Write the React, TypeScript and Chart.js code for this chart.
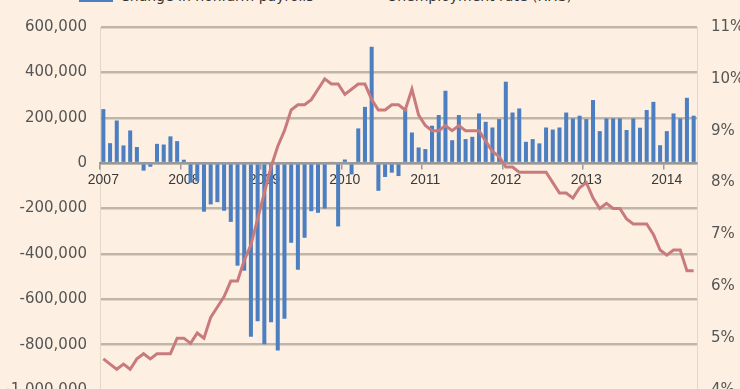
import React, { useEffect, useRef } from "react";
import Chart from "chart.js/auto";

// ---- Data ----
const yearLabels = ["2007", "2008", "2009", "2010", "2011", "2012", "2013", "2014"];
const monthNames = ["Jan", "Feb", "Mar", "Apr", "May", "Jun", "Jul", "Aug", "Sep", "Oct", "Nov", "Dec"];

// Change in nonfarm payrolls (thousands), Jan 2007 – May 2014
const payrolls2007 = [238, 88, 188, 78, 144, 71, -33, -16, 85, 82, 118, 97];
const payrolls2008 = [15, -86, -80, -214, -182, -172, -210, -259, -452, -474, -765, -697];
const payrolls2009 = [-798, -701, -826, -686, -351, -470, -329, -212, -219, -200, 5, -279];
const payrolls2010 = [16, -50, 153, 248, 513, -122, -61, -42, -57, 241, 135, 69];
const payrolls2011 = [62, 165, 212, 319, 101, 212, 106, 116, 219, 182, 157, 194];
const payrolls2012 = [359, 223, 241, 94, 106, 87, 157, 148, 157, 223, 197, 209];
const payrolls2013 = [194, 278, 141, 197, 197, 197, 146, 197, 156, 234, 270, 79];
const payrolls2014 = [141, 219, 197, 288, 209];

// Unemployment rate (%), Jan 2007 – May 2014
const unemp2007 = [4.6, 4.5, 4.4, 4.5, 4.4, 4.6, 4.7, 4.6, 4.7, 4.7, 4.7, 5.0];
const unemp2008 = [5.0, 4.9, 5.1, 5.0, 5.4, 5.6, 5.8, 6.1, 6.1, 6.5, 6.8, 7.3];
const unemp2009 = [7.8, 8.3, 8.7, 9.0, 9.4, 9.5, 9.5, 9.6, 9.8, 10.0, 9.9, 9.9];
const unemp2010 = [9.7, 9.8, 9.9, 9.9, 9.6, 9.4, 9.4, 9.5, 9.5, 9.4, 9.8, 9.3];
const unemp2011 = [9.1, 9.0, 9.0, 9.1, 9.0, 9.1, 9.0, 9.0, 9.0, 8.8, 8.6, 8.5];
const unemp2012 = [8.3, 8.3, 8.2, 8.2, 8.2, 8.2, 8.2, 8.0, 7.8, 7.8, 7.7, 7.9];
const unemp2013 = [8.0, 7.7, 7.5, 7.6, 7.5, 7.5, 7.3, 7.2, 7.2, 7.2, 7.0, 6.7];
const unemp2014 = [6.6, 6.7, 6.7, 6.3, 6.3];

const payrolls = [
  ...payrolls2007, ...payrolls2008, ...payrolls2009, ...payrolls2010,
  ...payrolls2011, ...payrolls2012, ...payrolls2013, ...payrolls2014,
];
const unemployment = [
  ...unemp2007, ...unemp2008, ...unemp2009, ...unemp2010,
  ...unemp2011, ...unemp2012, ...unemp2013, ...unemp2014,
];

const categories: string[] = [];
yearLabels.forEach((y) => monthNames.forEach((m) => categories.push(`${m} ${y}`)));
categories.length = payrolls.length;

const leftTickStep = 200000;
const leftMin = -1000000;
const leftMax = 600000;
const rightMin = 4;
const rightMax = 11;

const BAR_LABEL = "Change in nonfarm payrolls";
const LINE_LABEL = "Unemployment rate (RHS)";

const BG = "#FDF0E2";
const BAR_COLOR = "#4C7FC1";
const LINE_COLOR = "#C97A7D";
const GRID_COLOR = "#BFB5A8";
const AXIS_COLOR = "#999999";
const TEXT_COLOR = "#555555";

export default function App() {
  const canvasRef = useRef<HTMLCanvasElement | null>(null);

  useEffect(() => {
    if (!canvasRef.current) return;
    const chart = new Chart(canvasRef.current, {
      data: {
        labels: categories,
        datasets: [
          { type: "line", label: LINE_LABEL, data: unemployment, yAxisID: "y1", borderColor: LINE_COLOR, borderWidth: 3, pointRadius: 0, order: 0 },
          { type: "bar", label: BAR_LABEL, data: payrolls.map((v) => v * 1000), yAxisID: "y", backgroundColor: BAR_COLOR, barPercentage: 0.6, categoryPercentage: 1, order: 1 },
        ],
      } as any,
      options: {
        animation: false,
        responsive: true,
        maintainAspectRatio: false,
        layout: { padding: { top: 27, bottom: 20, left: 0, right: 0 } },
        plugins: { legend: { display: false }, tooltip: { enabled: false } },
        scales: {
          x: {
            type: "category",
            position: { y: 0 } as any,
            offset: true,
            grid: {
              display: true, drawOnChartArea: false, drawTicks: true, tickLength: 5, offset: true, lineWidth: 1.5,
              color: (ctx: any) => (ctx.index % 12 === 0 ? AXIS_COLOR : "rgba(0,0,0,0)"),
            },
            border: { display: true, color: AXIS_COLOR, width: 2.5 },
            ticks: {
              autoSkip: false, maxRotation: 0, minRotation: 0, padding: 4, color: "#3a3a3a",
              font: { family: "'Liberation Sans', sans-serif", size: 14 },
              callback: (_v: any, idx: number) => (idx % 12 === 0 ? yearLabels[idx / 12] : ""),
            },
          },
          y: {
            position: "left", min: leftMin, max: leftMax,
            ticks: { stepSize: leftTickStep, padding: 5, color: TEXT_COLOR, font: { family: "'DejaVu Sans', sans-serif", size: 15 }, callback: (v: any) => Number(v).toLocaleString("en-US") },
            grid: { color: GRID_COLOR, lineWidth: 2.5, tickColor: "rgba(0,0,0,0)" },
            afterFit: (s: any) => { s.width = 100; },
          },
          y1: {
            position: "right", min: rightMin, max: rightMax,
            ticks: { stepSize: 1, padding: 6, color: TEXT_COLOR, font: { family: "'DejaVu Sans', sans-serif", size: 15 }, callback: (v: any) => `${v}%` },
            grid: { display: false },
            afterFit: (s: any) => { s.width = 63; },
          },
        },
      } as any,
    });
    return () => chart.destroy();
  }, []);

  const legendText: React.CSSProperties = {
    position: "absolute",
    top: -11,
    fontFamily: "'DejaVu Sans', sans-serif",
    fontSize: 14,
    lineHeight: "14px",
    color: "#333",
    whiteSpace: "nowrap",
  };

  return (
    <div style={{ position: "fixed", left: 0, top: 0, width: 740, height: 389, overflow: "hidden", background: BG }}>
      <div style={{ position: "absolute", left: 79, top: -8, width: 34, height: 10, background: BAR_COLOR }} />
      <div style={{ ...legendText, left: 120 }}>{BAR_LABEL}</div>
      <div style={{ position: "absolute", left: 338, top: -6, width: 40, height: 3, background: LINE_COLOR }} />
      <div style={{ ...legendText, left: 387 }}>{LINE_LABEL}</div>
      <div style={{ position: "absolute", left: 0, top: 0, width: 760, height: 410 }}>
        <canvas ref={canvasRef} />
      </div>
    </div>
  );
}
